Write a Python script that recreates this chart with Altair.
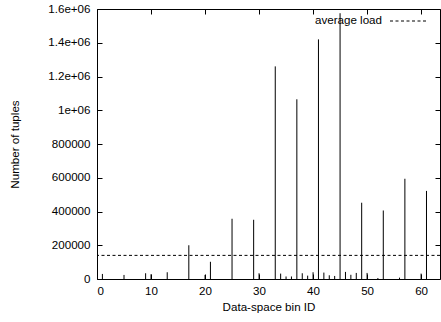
import altair as alt
import pandas as pd

# ---- data ----
bin_ids = [1, 5, 9, 10, 13, 17, 20, 21, 25, 29, 30, 33, 34, 35, 36, 37, 38, 39, 40,
           41, 42, 43, 44, 45, 46, 47, 48, 49, 50, 52, 53, 56, 57, 60, 61]
tuples = [30000, 24000, 34000, 28000, 40000, 200000, 24000, 102000, 357000, 351000,
          34000, 1260000, 32000, 15000, 15000, 1065000, 34000, 20000, 40000,
          1420000, 38000, 22000, 18000, 1575000, 42000, 25000, 36000, 452000, 36000,
          6000, 406000, 8000, 594000, 32000, 522000]
average_load = 140000

x_ticks = [0, 10, 20, 30, 40, 50, 60]
y_ticks = [0, 200000, 400000, 600000, 800000, 1000000, 1200000, 1400000, 1600000]
y_tick_labels = ["0", "200000", "400000", "600000", "800000", "1e+06", "1.2e+06",
                 "1.4e+06", "1.6e+06"]

x_title = "Data-space bin ID"
y_title = "Number of tuples"
legend_label = "average load"

df = pd.DataFrame({"bin": bin_ids, "tuples": tuples})
avg_df = pd.DataFrame({"avg": [average_load]})

FONT = "Liberation Sans"
FS = 11.6
xdom = [0, 63.5]
ydom = [0, 1600000]

label_expr = "[" + ",".join("'%s'" % s for s in y_tick_labels) + "][indexof([" + \
    ",".join(str(v) for v in y_ticks) + "], datum.value)]"

xscale = alt.Scale(domain=xdom, nice=False, zero=False)
yscale = alt.Scale(domain=ydom, nice=False)

common_axis = dict(domain=False, grid=False, tickColor="black", tickSize=5,
                   tickWidth=1, offset=-5, labelFont=FONT, labelFontSize=FS,
                   labelColor="black", titleFont=FONT, titleFontSize=FS,
                   titleFontWeight="normal", titleColor="black")

bars = alt.Chart(df).mark_rule(color="black", strokeWidth=1).encode(
    x=alt.X("bin:Q", scale=xscale,
            axis=alt.Axis(orient="bottom", values=x_ticks, title=x_title,
                          labelPadding=6, titlePadding=5, format="d",
                          **common_axis)),
    y=alt.Y("tuples:Q", scale=yscale,
            axis=alt.Axis(orient="left", values=y_ticks, title=y_title,
                          labelExpr=label_expr, labelPadding=7, titlePadding=27,
                          **common_axis)),
    y2=alt.datum(0),
)

mirror = alt.Chart(df).mark_point(opacity=0).encode(
    x=alt.X("bin:Q", scale=xscale,
            axis=alt.Axis(orient="top", values=x_ticks, labels=False, title=None,
                          **common_axis)),
    y=alt.Y("tuples:Q", scale=yscale,
            axis=alt.Axis(orient="right", values=y_ticks, labels=False, title=None,
                          **common_axis)),
)

avg_rule = alt.Chart(avg_df).mark_rule(color="black", strokeWidth=1,
                                       strokeDash=[3, 2.5]).encode(
    y=alt.Y("avg:Q", scale=yscale, axis=None),
)

legend_text = alt.Chart(avg_df).mark_text(
    align="right", baseline="middle", font=FONT, fontSize=FS, color="black"
).encode(x=alt.value(285), y=alt.value(12), text=alt.value(legend_label))

legend_line = alt.Chart(avg_df).mark_rule(color="black", strokeWidth=1,
                                          strokeDash=[3, 2.5]).encode(
    x=alt.value(293), x2=alt.value(330), y=alt.value(12))

chart = alt.layer(bars, avg_rule, mirror, legend_text, legend_line).properties(
    width=343, height=270,
    autosize=alt.AutoSizeParams(type="none"),
    padding={"left": 97, "top": 9, "right": 1, "bottom": 43},
    background="white",
).configure_view(stroke="black", strokeWidth=1)

chart.save("out.html", embed_options={"renderer": "svg", "actions": False})
